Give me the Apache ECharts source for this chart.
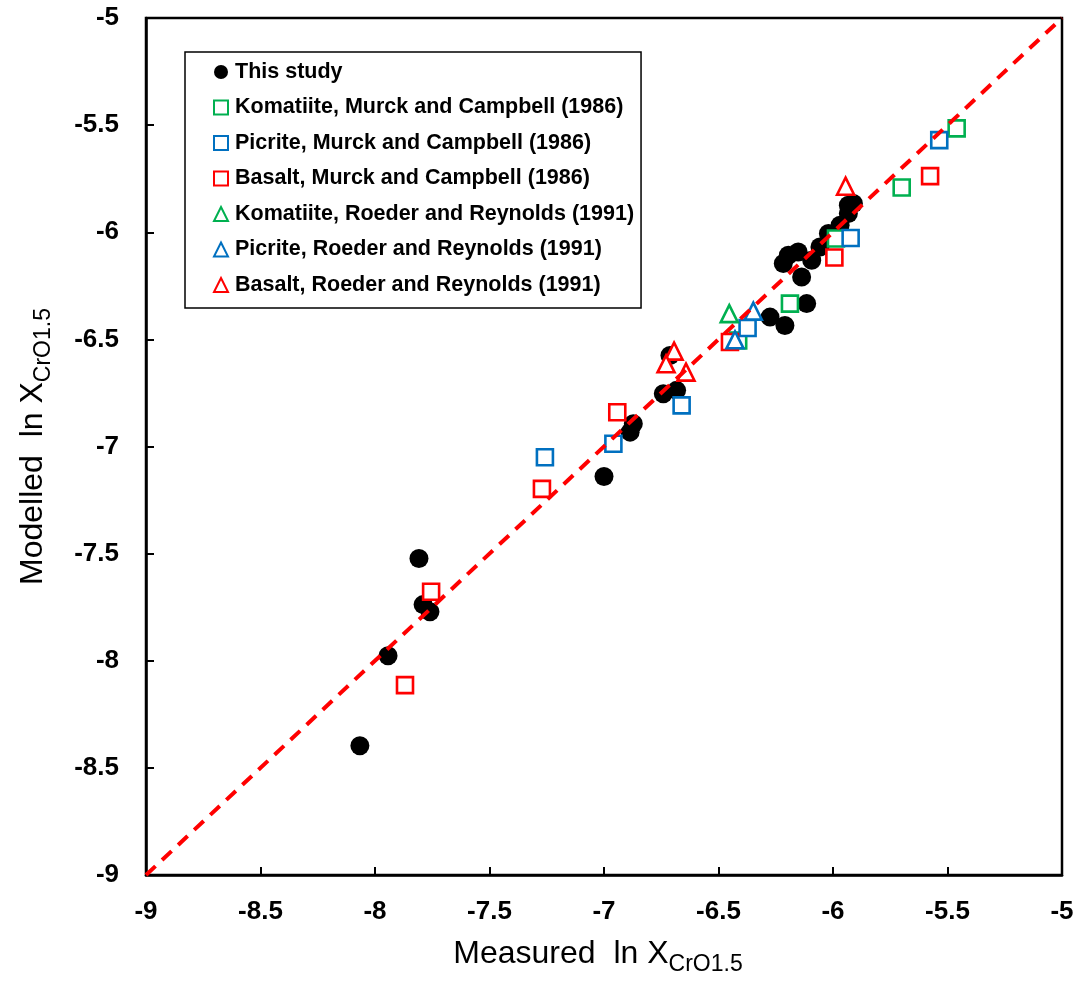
<!DOCTYPE html>
<html>
<head>
<meta charset="utf-8">
<script src="https://cdn.jsdelivr.net/npm/echarts@6/dist/echarts.min.js"></script>
<style>
  html, body { margin: 0; padding: 0; background: #fff; }
  #chart { width: 1090px; height: 983px; }
</style>
</head>
<body>
<div id="chart"></div>
<script>
// Measured vs modelled ln X(CrO1.5), each point as [measured, modelled]
const thisStudy = [
  [-8.066, -8.397], [-7.943, -7.977], [-7.808, -7.523], [-7.790, -7.738],
  [-7.760, -7.771], [-7.000, -7.140], [-6.886, -6.933], [-6.872, -6.894],
  [-6.741, -6.754], [-6.683, -6.738], [-6.712, -6.575], [-6.275, -6.396],
  [-6.210, -6.435], [-6.115, -6.333], [-6.217, -6.146], [-6.195, -6.107],
  [-6.152, -6.092], [-6.137, -6.209], [-6.093, -6.131], [-6.057, -6.069],
  [-6.020, -6.006], [-5.969, -5.967], [-5.933, -5.913], [-5.933, -5.874],
  [-5.911, -5.866]
];
const komatiiteMC = [
  [-5.460, -5.515], [-5.700, -5.791], [-5.987, -6.029], [-6.188, -6.333], [-6.414, -6.505]
];
const picriteMC = [
  [-5.536, -5.570], [-5.923, -6.027], [-6.373, -6.447], [-6.661, -6.808],
  [-6.959, -6.987], [-7.258, -7.050]
];
const basaltMC = [
  [-5.576, -5.738], [-5.994, -6.118], [-6.450, -6.512], [-6.942, -6.840],
  [-7.271, -7.198], [-7.755, -7.678], [-7.869, -8.114]
];
const komatiiteRR = [
  [-6.453, -6.380]
];
const picriteRR = [
  [-6.348, -6.368], [-6.428, -6.502]
];
const basaltRR = [
  [-5.945, -5.785], [-6.694, -6.555], [-6.729, -6.614], [-6.642, -6.653]
];
// 1:1 reference line
const oneToOne = [[-9, -9], [-5, -5]];

const axisMin = -9, axisMax = -5, axisStep = 0.5;

const GREEN = '#00B050', BLUE = '#0070C0', RED = '#FF0000';
const FONT = '"Liberation Sans", Arial, sans-serif';

function hollow(name, data, symbol, color, size) {
  return {
    name: name,
    type: 'scatter',
    data: data,
    symbol: symbol,
    symbolSize: size,
    itemStyle: { color: '#ffffff', borderColor: color, borderWidth: 2.6, opacity: 1 },
    z: symbol === 'triangle' ? 4 : 3
  };
}

// Axis title with a subscripted CrO1.5
function axisTitle(text, pad) {
  return {
    name: '{a|' + text + '}{b|CrO1.5}',
    nameLocation: 'middle',
    nameTextStyle: {
      padding: pad,
      rich: {
        a: { fontFamily: FONT, fontSize: 32, color: '#000', lineHeight: 44, verticalAlign: 'middle' },
        b: { fontFamily: FONT, fontSize: 23, color: '#000', lineHeight: 22, verticalAlign: 'bottom' }
      }
    }
  };
}

const chart = echarts.init(document.getElementById('chart'), null, { renderer: 'canvas' });

chart.setOption({
  backgroundColor: '#ffffff',
  animation: false,
  grid: {
    left: 146, right: 28, top: 18, bottom: 108,
    show: true, borderColor: '#000', borderWidth: 2.5, backgroundColor: 'transparent'
  },
  legend: {
    orient: 'vertical',
    left: 185, top: 52,
    data: [
      'This study',
      'Komatiite, Murck and Campbell (1986)',
      'Picrite, Murck and Campbell (1986)',
      'Basalt, Murck and Campbell (1986)',
      'Komatiite, Roeder and Reynolds (1991)',
      'Picrite, Roeder and Reynolds (1991)',
      'Basalt, Roeder and Reynolds (1991)'
    ],
    itemWidth: 14, itemHeight: 14, itemGap: 13.5,
    padding: [9, 7, 12, 28],
    borderColor: '#000', borderWidth: 1.5,
    backgroundColor: '#fff',
    textStyle: { fontFamily: FONT, fontSize: 21.5, lineHeight: 22, fontWeight: 'bold', color: '#000', padding: [0, 0, 0, 2] },
    selectedMode: false
  },
  xAxis: Object.assign({
    type: 'value', min: axisMin, max: axisMax, interval: axisStep,
    nameGap: 57,
    axisLine: { show: true, lineStyle: { color: '#000', width: 2.5 } },
    axisTick: { show: true, inside: true, length: 8, lineStyle: { color: '#000', width: 2 } },
    axisLabel: { fontFamily: FONT, fontSize: 26, fontWeight: 'bold', color: '#000', margin: 24 },
    splitLine: { show: false }
  }, axisTitle('Measured  ln X', [0, 12, 0, 0])),
  yAxis: Object.assign({
    type: 'value', min: axisMin, max: axisMax, interval: axisStep,
    nameGap: 91,
    axisLine: { show: true, lineStyle: { color: '#000', width: 2.5 } },
    axisTick: { show: true, inside: true, length: 8, lineStyle: { color: '#000', width: 2 } },
    axisLabel: { fontFamily: FONT, fontSize: 26, fontWeight: 'bold', color: '#000', margin: 27 },
    splitLine: { show: false }
  }, axisTitle('Modelled  ln X', [0, 0, 0, 0])),
  series: [
    {
      name: 'This study', type: 'scatter', data: thisStudy,
      symbol: 'circle', symbolSize: 19,
      itemStyle: { color: '#000', opacity: 1 }, z: 2
    },
    hollow('Komatiite, Murck and Campbell (1986)', komatiiteMC, 'rect', GREEN, 16),
    hollow('Picrite, Murck and Campbell (1986)', picriteMC, 'rect', BLUE, 16),
    hollow('Basalt, Murck and Campbell (1986)', basaltMC, 'rect', RED, 16),
    hollow('Komatiite, Roeder and Reynolds (1991)', komatiiteRR, 'triangle', GREEN, 17),
    hollow('Picrite, Roeder and Reynolds (1991)', picriteRR, 'triangle', BLUE, 17),
    hollow('Basalt, Roeder and Reynolds (1991)', basaltRR, 'triangle', RED, 17),
    {
      name: '1:1', type: 'line', data: oneToOne,
      symbol: 'none', silent: true,
      lineStyle: { color: RED, width: 4, type: [13, 9] },
      z: 5
    }
  ]
});
</script>
</body>
</html>
